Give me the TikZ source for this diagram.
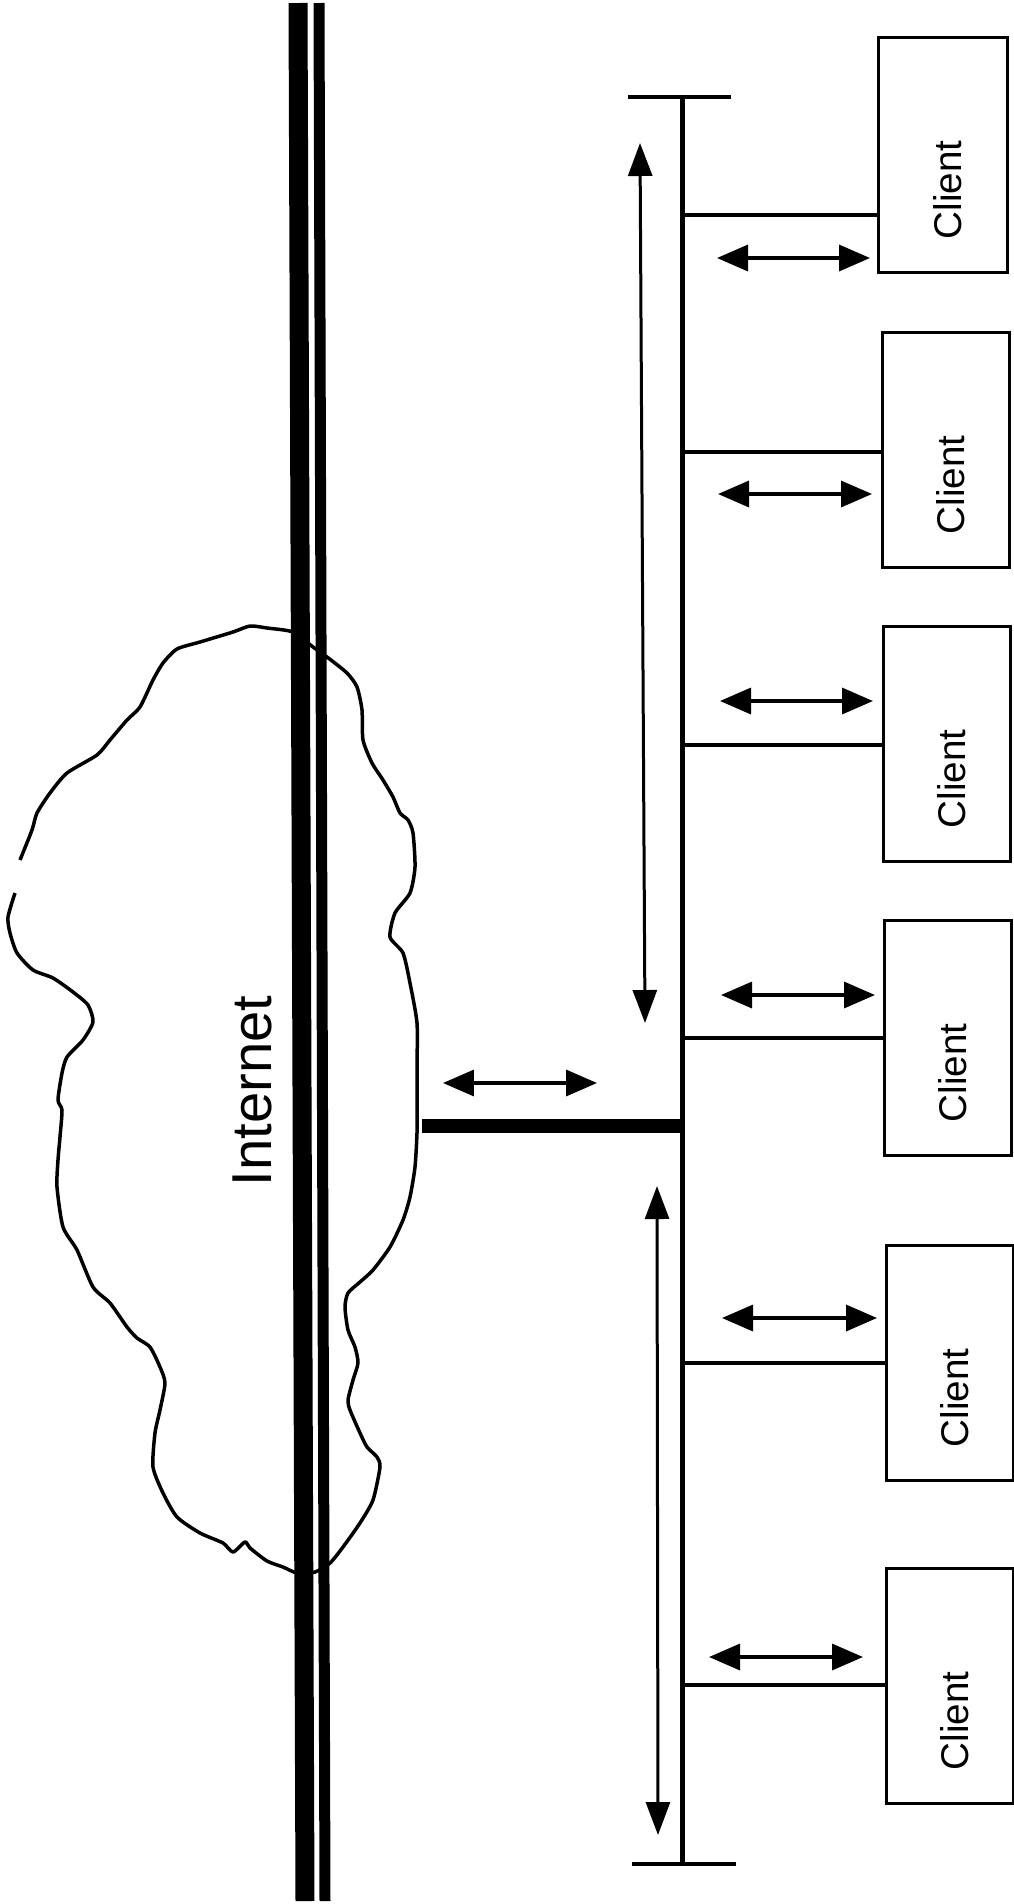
\documentclass[tikz,border=0pt]{standalone}
\usepackage{fontspec}
\setmainfont{Liberation Sans}
\usetikzlibrary{arrows.meta, positioning, calc}

\begin{document}
\begin{tikzpicture}[
    x=0.02cm, y=-0.02cm,
    clientbox/.style={
        rectangle,
        draw,
        line width=0.07cm,
        minimum width=2.54cm,
        minimum height=4.7cm,
        inner sep=0pt
    },
    clientlabel/.style={
        rotate=90,
        inner sep=0pt,
        font=\fontsize{22}{25}\selectfont
    },
    busline/.style={line width=0.1cm},
    stub/.style={line width=0.07cm},
    feed/.style={line width=0.28cm},
    trunk/.style={line width=#1},
    cloudline/.style={line width=0.07cm, line join=round},
    dbl/.style={
        line width=0.07cm,
        {Triangle[length=0.62cm,width=0.52cm]}-{Triangle[length=0.62cm,width=0.52cm]}
    },
    spanarrow/.style={
        line width=0.06cm,
        {Triangle[length=0.66cm,width=0.48cm]}-{Triangle[length=0.66cm,width=0.48cm]}
    }
]
\useasboundingbox (0,0) rectangle (1014,1904);

\draw[cloudline] plot[smooth, tension=0.4] coordinates {
    (20,860) (32,830) (37,813) (50,793) (67,773) (97,755) (110,740) (127,720)
    (140,707) (153,680) (163,663) (177,649) (200,642) (233,632) (250,626)
    (267,628) (293,632) (313,647) (327,657) (347,673) (357,687) (362,710)
    (363,740) (372,763) (383,780) (393,797) (400,813) (408,820) (413,833)
    (415,867) (410,893) (395,913) (390,937) (403,953) (410,983) (417,1023)
    (417,1067) (417,1107) (417,1133) (415,1167) (410,1197) (403,1220)
    (390,1247) (373,1270) (360,1282) (348,1293) (345,1307) (348,1330)
    (355,1347) (358,1363) (353,1380) (348,1400) (350,1410) (360,1433)
    (367,1447) (377,1457) (380,1467) (373,1500) (360,1523) (343,1547)
    (330,1563) (315,1572) (297,1573) (283,1567) (267,1561) (250,1548)
    (245,1542) (233,1552) (223,1543) (200,1533) (177,1517) (163,1493)
    (153,1467) (155,1433) (160,1410) (165,1383) (160,1367) (150,1347)
    (137,1338) (127,1327) (110,1303) (93,1287) (77,1250) (63,1227) (57,1187)
    (58,1160) (60,1137) (62,1110) (58,1100) (62,1073) (67,1057) (83,1040)
    (93,1022) (88,1005) (73,992) (53,978) (33,970) (17,953) (10,933) (8,917)
    (15,893)};

\draw[trunk=0.38cm] (298,3) -- (305,1901);
\draw[trunk=0.22cm] (319,3) -- (325,1901);

\node[rotate=90, inner sep=0pt, font=\fontsize{32}{36}\selectfont] (inet) at (252,1091) {Internet};

\coordinate (bustop) at (682,97);
\coordinate (busbot) at (682,1864);
\draw[busline] (bustop) -- (busbot);
\draw[stub] (628,97) coordinate (tt1) -- (731,97) coordinate (tt2);
\draw[stub] (632,1864) coordinate (bt1) -- (736,1864) coordinate (bt2);

\coordinate (gw) at (422,1126);
\draw[feed] (gw) -- (gw -| bustop);
\coordinate (gwa) at (443,1083);
\coordinate (gwb) at (597,1083);
\draw[dbl] (gwa) -- (gwb);

\coordinate (up1) at (640,143);
\coordinate (up2) at (645,1023);
\draw[spanarrow] (up1) -- (up2);
\coordinate (lo1) at (657,1186);
\coordinate (lo2) at (658,1835);
\draw[spanarrow] (lo1) -- (lo2);

\node[clientbox, minimum width=2.58cm] (c1) at (943,155) {};
\node[clientbox] (c2) at (946,450) {};
\node[clientbox] (c3) at (947,744) {};
\node[clientbox] (c4) at (948,1038) {};
\node[clientbox] (c5) at (950,1363) {};
\node[clientbox] (c6) at (950,1686) {};

\node[clientlabel] (c1t) at ($(c1.center)+(5,35)$) {Client};
\node[clientlabel] (c2t) at ($(c2.center)+(5,35)$) {Client};
\node[clientlabel] (c3t) at ($(c3.center)+(5,35)$) {Client};
\node[clientlabel] (c4t) at ($(c4.center)+(5,35)$) {Client};
\node[clientlabel] (c5t) at ($(c5.center)+(5,35)$) {Client};
\node[clientlabel] (c6t) at ($(c6.center)+(5,35)$) {Client};

\coordinate (s1) at (682,215);
\coordinate (s2) at (682,452);
\coordinate (s3) at (682,745);
\coordinate (s4) at (682,1038);
\coordinate (s5) at (682,1363);
\coordinate (s6) at (682,1685);
\draw[stub] (s1) -- (s1 -| c1.west);
\draw[stub] (s2) -- (s2 -| c2.west);
\draw[stub] (s3) -- (s3 -| c3.west);
\draw[stub] (s4) -- (s4 -| c4.west);
\draw[stub] (s5) -- (s5 -| c5.west);
\draw[stub] (s6) -- (s6 -| c6.west);

\coordinate (a1w) at (717,258);  \coordinate (a1e) at (870,258);
\coordinate (a2w) at (718,494);  \coordinate (a2e) at (872,494);
\coordinate (a3w) at (720,701);  \coordinate (a3e) at (873,701);
\coordinate (a4w) at (721,995);  \coordinate (a4e) at (875,995);
\coordinate (a5w) at (722,1318); \coordinate (a5e) at (877,1318);
\coordinate (a6w) at (709,1657); \coordinate (a6e) at (863,1657);
\draw[dbl] (a1w) -- (a1e);
\draw[dbl] (a2w) -- (a2e);
\draw[dbl] (a3w) -- (a3e);
\draw[dbl] (a4w) -- (a4e);
\draw[dbl] (a5w) -- (a5e);
\draw[dbl] (a6w) -- (a6e);
\end{tikzpicture}
\end{document}
